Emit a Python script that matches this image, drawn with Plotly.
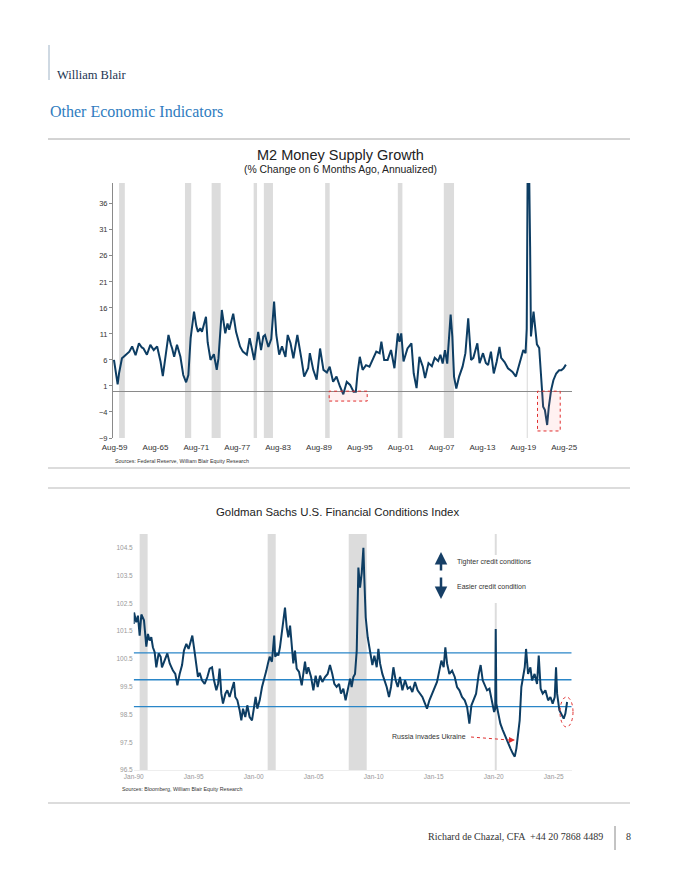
import plotly.graph_objects as go

# ---------------- DATA ----------------
# M2 money supply growth (% change on 6 months ago, annualized)
m2_dates = [
    "1959-07-01", "1959-11-01", "1960-01-15", "1960-04-01", "1960-09-01", "1961-02-01", "1961-05-01",
    "1961-10-01", "1962-03-01", "1962-09-01", "1963-03-01", "1963-08-01", "1963-11-01", "1964-05-01",
    "1964-11-01", "1965-05-01", "1965-11-01", "1966-03-01", "1966-05-01", "1966-09-01", "1967-01-01",
    "1967-07-01", "1967-11-01", "1968-01-15", "1968-05-01", "1968-10-01", "1969-04-01", "1969-09-01",
    "1970-02-01", "1970-06-01", "1970-10-01", "1971-04-01", "1971-08-01", "1971-11-01", "1972-03-01",
    "1972-06-01", "1973-01-01", "1973-04-01", "1973-09-01", "1974-03-01", "1974-08-01", "1974-11-01",
    "1975-05-01", "1975-11-01", "1976-03-01", "1976-06-01", "1977-01-01", "1977-06-01", "1978-01-01",
    "1978-06-01", "1979-01-01", "1979-06-01", "1980-02-01", "1980-09-01", "1981-02-01", "1981-06-01",
    "1981-09-01", "1982-03-01", "1982-08-01", "1983-01-01", "1983-05-01", "1983-10-01", "1984-03-01",
    "1984-09-01", "1985-01-01", "1985-06-01", "1985-11-01", "1986-06-01", "1987-01-01", "1987-06-01",
    "1988-01-01", "1988-04-01", "1988-10-01", "1989-04-01", "1989-10-01", "1990-04-01", "1990-10-01",
    "1991-03-01", "1991-09-01", "1992-03-01", "1992-09-01", "1993-03-01", "1993-09-01", "1994-03-01",
    "1994-09-01", "1995-01-01", "1995-04-01", "1995-08-01", "1996-01-01", "1996-07-01", "1997-01-01",
    "1997-08-01", "1998-01-01", "1998-07-01", "1998-10-01", "1999-03-01", "1999-09-01", "2000-03-01",
    "2000-09-01", "2001-03-01", "2001-06-01", "2001-09-01", "2002-01-01", "2002-08-01", "2003-03-01",
    "2003-07-01", "2003-12-01", "2004-05-01", "2004-11-01", "2005-03-01", "2005-09-01", "2006-03-01",
    "2006-08-01", "2007-02-01", "2007-06-01", "2007-10-01", "2008-02-01", "2008-06-01", "2008-12-01",
    "2009-03-01", "2009-06-01", "2009-10-01", "2010-03-01", "2010-09-01", "2011-02-01", "2011-07-01",
    "2011-12-01", "2012-04-01", "2012-11-01", "2013-03-01", "2013-09-01", "2014-02-01", "2014-06-01",
    "2014-11-01", "2015-04-01", "2015-09-01", "2016-02-01", "2016-05-01", "2016-11-01", "2017-05-01",
    "2018-01-01", "2018-07-01", "2019-02-01", "2019-08-01", "2019-12-01", "2020-02-01", "2020-04-01",
    "2020-06-01", "2020-08-01", "2020-09-15", "2021-02-01", "2021-05-01", "2021-08-01", "2021-12-01",
    "2022-04-01", "2022-07-01", "2022-10-01", "2023-02-01", "2023-05-01", "2023-09-01", "2024-01-01",
    "2024-06-01", "2024-11-01", "2025-03-01", "2025-07-01", "2025-11-01",
]
m2_values = [
    6.0, 2.5, 1.3, 3.5, 6.3, 6.8, 7.1,
    7.6, 8.6, 6.9, 9.2, 8.4, 8.2, 7.0,
    8.9, 7.9, 8.6, 7.0, 5.7, 2.9, 6.3,
    10.8, 9.0, 8.2, 6.6, 8.9, 6.6, 3.1,
    1.7, 3.1, 10.2, 15.3, 12.5, 11.4, 12.1,
    11.4, 14.3, 9.4, 6.0, 7.1, 4.1, 6.3,
    15.6, 11.1, 13.0, 11.8, 14.9, 11.4, 8.6,
    7.6, 7.0, 10.2, 6.0, 11.4, 7.9, 10.5,
    10.8, 8.5, 10.0, 17.2, 10.8, 7.0, 8.6,
    6.6, 10.8, 9.2, 6.3, 10.8, 6.3, 2.8,
    4.4, 7.3, 4.1, 2.2, 8.2, 4.1, 3.6,
    4.7, 1.8, 2.8, 0.9, -0.6, 1.8, 1.2,
    -0.1, -0.1, 3.4, 6.6, 4.1, 5.0, 4.7,
    6.6, 7.6, 7.3, 9.5, 6.0, 6.0, 7.9,
    4.4, 11.1, 9.5, 11.1, 5.7, 8.2, 9.2,
    3.4, 0.6, 6.6, 4.7, 2.5, 5.4, 4.8,
    6.4, 5.8, 7.0, 5.3, 7.9, 5.3, 14.7,
    10.5, 2.8, 0.5, 2.8, 4.7, 7.3, 14.0,
    6.0, 6.4, 9.2, 5.4, 7.3, 5.4, 5.0,
    7.6, 3.4, 5.6, 8.5, 6.4, 5.6, 4.4,
    3.7, 2.8, 5.6, 7.9, 7.3, 12.0, 48.0,
    45.0, 27.8, 10.5, 15.3, 12.4, 9.0, 8.3,
    2.1, -3.0, -3.6, -6.5, -3.0, 0.2, 2.1,
    3.4, 4.0, 4.0, 4.4, 5.1,
]
m2_tick_dates = ["1959-08-01", "1965-08-01", "1971-08-01", "1977-08-01", "1983-08-01", "1989-08-01",
                 "1995-08-01", "2001-08-01", "2007-08-01", "2013-08-01", "2019-08-01", "2025-08-01"]
m2_tick_text = ["Aug-59", "Aug-65", "Aug-71", "Aug-77", "Aug-83", "Aug-89",
                "Aug-95", "Aug-01", "Aug-07", "Aug-13", "Aug-19", "Aug-25"]
m2_y_ticks = [-9, -4, 1, 6, 11, 16, 21, 26, 31, 36]

# NBER recessions
m2_recessions = [("1960-04-01", "1961-02-01"), ("1969-12-01", "1970-11-01"), ("1973-11-01", "1975-03-01"),
                 ("1980-01-01", "1980-07-01"), ("1981-07-01", "1982-11-01"), ("1990-07-01", "1991-03-01"),
                 ("2001-03-01", "2001-11-01"), ("2007-12-01", "2009-06-01"), ("2020-02-01", "2020-04-01")]
m2_negative_boxes = [("1991-02-01", "1996-09-01", -1.9), ("2021-09-01", "2025-01-01", -7.65)]

# Goldman Sachs US Financial Conditions Index
fci_dates = [
    "1990-01-01", "1990-01-12", "1990-03-20", "1990-05-10", "1990-07-01", "1990-08-22", "1990-11-10",
    "1991-01-20", "1991-03-10", "1991-05-01", "1991-06-20", "1991-08-08", "1991-10-01", "1991-11-20",
    "1992-01-30", "1992-04-01", "1992-05-10", "1992-08-01", "1992-10-20", "1993-01-01", "1993-04-10",
    "1993-06-20", "1993-08-22", "1993-10-30", "1994-01-12", "1994-03-10", "1994-05-22", "1994-07-30",
    "1994-10-01", "1994-11-20", "1995-01-30", "1995-03-20", "1995-05-10", "1995-07-01", "1995-09-10",
    "1995-12-01", "1996-02-20", "1996-05-01", "1996-07-12", "1996-09-10", "1996-11-20", "1997-01-12",
    "1997-02-28", "1997-04-20", "1997-06-10", "1997-08-22", "1997-10-20", "1997-12-28", "1998-03-10",
    "1998-05-10", "1998-06-20", "1998-08-22", "1998-10-30", "1998-12-20", "1999-02-10", "1999-04-20",
    "1999-06-20", "1999-08-30", "1999-11-10", "2000-01-12", "2000-02-28", "2000-04-20", "2000-07-01",
    "2000-09-10", "2000-11-10", "2001-01-20", "2001-03-10", "2001-05-01", "2001-07-08", "2001-09-15",
    "2001-10-15", "2001-12-20", "2002-01-20", "2002-03-10", "2002-05-01", "2002-06-20", "2002-08-10",
    "2002-10-01", "2002-11-20", "2003-01-12", "2003-02-28", "2003-04-20", "2003-06-10", "2003-08-01",
    "2003-10-12", "2004-01-01", "2004-04-10", "2004-05-28", "2004-07-20", "2004-10-12", "2004-12-20",
    "2005-02-28", "2005-05-01", "2005-07-12", "2005-09-20", "2005-12-10", "2006-02-28", "2006-05-10",
    "2006-07-20", "2006-09-20", "2006-11-28", "2007-02-10", "2007-04-10", "2007-06-20", "2007-08-28",
    "2007-10-30", "2008-01-12", "2008-02-28", "2008-04-20", "2008-06-10", "2008-08-01", "2008-09-20",
    "2008-11-10", "2009-01-01", "2009-02-20", "2009-03-20", "2009-05-01", "2009-07-01", "2009-09-10",
    "2009-11-20", "2010-01-20", "2010-04-01", "2010-05-22", "2010-07-12", "2010-09-20", "2010-11-20",
    "2011-01-30", "2011-04-10", "2011-06-10", "2011-08-22", "2011-10-30", "2012-01-01", "2012-03-10",
    "2012-05-22", "2012-08-10", "2012-10-30", "2013-01-12", "2013-03-20", "2013-06-10", "2013-08-28",
    "2013-11-10", "2014-01-20", "2014-03-20", "2014-06-10", "2014-08-22", "2014-11-10", "2015-01-30",
    "2015-04-10", "2015-06-20", "2015-08-22", "2015-10-30", "2015-12-20", "2016-02-10", "2016-04-20",
    "2016-07-12", "2016-10-01", "2016-12-10", "2017-02-20", "2017-05-10", "2017-08-01", "2017-10-12",
    "2017-12-20", "2018-02-20", "2018-05-01", "2018-07-12", "2018-10-01", "2018-11-28", "2019-01-30",
    "2019-04-01", "2019-06-10", "2019-08-22", "2019-11-10", "2020-01-12", "2020-02-15", "2020-03-01",
    "2020-03-20", "2020-05-10", "2020-07-20", "2020-10-01", "2020-12-20", "2021-03-10", "2021-05-22",
    "2021-08-01", "2021-10-01", "2021-11-20", "2022-01-12", "2022-02-28", "2022-04-20", "2022-06-10",
    "2022-08-01", "2022-09-10", "2022-11-10", "2023-01-20", "2023-03-10", "2023-05-28", "2023-08-10",
    "2023-10-01", "2023-11-28", "2024-01-30", "2024-04-20", "2024-07-12", "2024-09-20", "2024-11-28",
    "2025-01-30", "2025-03-10", "2025-04-12", "2025-06-20", "2025-09-10", "2025-10-30", "2025-12-20",
    "2026-02-10",
]
fci_values = [
    101.76, 102.17, 101.82, 102.06, 101.34, 102.10, 101.89,
    100.94, 101.40, 101.16, 101.28, 100.92, 100.74, 100.20,
    100.70, 100.58, 100.20, 100.46, 100.70, 100.34, 100.08,
    99.96, 99.55, 99.96, 100.28, 100.80, 101.04, 100.86,
    101.10, 101.34, 100.74, 100.28, 99.85, 100.00, 99.73,
    99.60, 99.85, 100.15, 100.20, 99.73, 99.37, 99.60,
    100.15, 99.25, 98.89, 99.25, 99.37, 99.13, 99.43,
    99.67, 99.13, 99.01, 98.65, 98.29, 98.71, 98.41,
    98.83, 98.41, 98.29, 98.89, 99.13, 98.71, 99.01,
    99.49, 99.73, 100.08, 100.34, 100.58, 100.40, 101.34,
    100.58, 100.70, 100.62, 100.92, 101.40, 101.88, 102.35,
    101.64, 101.28, 101.70, 101.16, 100.34, 100.80, 100.15,
    100.03, 99.55, 100.40, 99.96, 100.20, 99.85, 99.37,
    99.90, 99.49, 99.90, 99.67, 99.85, 99.96, 100.28,
    99.96, 99.60, 99.49, 99.60, 99.25, 99.43, 99.01,
    99.37, 99.79, 99.49, 99.85, 99.96, 100.80, 103.79,
    103.07, 103.60, 104.50, 103.40, 102.00, 101.28, 100.74,
    100.28, 100.62, 100.20, 100.86, 100.34, 99.96, 99.73,
    99.49, 99.13, 99.49, 100.20, 99.73, 99.49, 99.85,
    99.37, 99.73, 99.43, 99.49, 99.31, 99.67, 99.37,
    99.25, 99.13, 98.95, 98.71, 99.01, 99.25, 99.49,
    99.67, 100.08, 100.44, 100.20, 100.92, 100.34, 99.96,
    100.08, 99.85, 99.49, 99.37, 99.13, 99.01, 98.77,
    98.17, 98.83, 99.07, 99.25, 99.96, 100.28, 99.73,
    99.55, 99.37, 99.43, 98.89, 98.59, 98.70, 101.58,
    98.89, 98.53, 98.17, 97.94, 97.69, 97.45, 97.28,
    97.10, 96.98, 97.28, 97.81, 98.29, 99.49, 99.85,
    100.20, 100.86, 99.96, 100.20, 99.73, 99.96, 99.60,
    100.62, 99.43, 99.25, 99.37, 99.01, 99.13, 98.89,
    99.13, 100.20, 99.25, 98.65, 98.47, 98.35, 98.53,
    98.95,
]
fci_ref_levels = [100.72, 99.75, 98.78]
fci_tick_dates = ["1990-01-01", "1995-01-01", "2000-01-01", "2005-01-01",
                  "2010-01-01", "2015-01-01", "2020-01-01", "2025-01-01"]
fci_tick_text = ["Jan-90", "Jan-95", "Jan-00", "Jan-05", "Jan-10", "Jan-15", "Jan-20", "Jan-25"]
fci_y_ticks = [96.5, 97.5, 98.5, 99.5, 100.5, 101.5, 102.5, 103.5, 104.5]
fci_recessions = [("1990-07-01", "1991-03-01"), ("2001-03-01", "2001-11-01"),
                  ("2007-12-01", "2009-06-01"), ("2020-02-01", "2020-04-01")]

# ---------------- FIGURE ----------------
W, H = 680, 880
def px(x):
    return x / W
def py(y):
    return 1 - y / H

NAVY = "#0d3d63"
REC = "#dcdcdc"
SANS = "Liberation Sans, Arial, sans-serif"
SERIF = "Liberation Serif, Times New Roman, serif"

fig = go.Figure()

# Reference lines for FCI
for lvl in fci_ref_levels:
    fig.add_trace(go.Scatter(x=["1990-01-01", "2026-06-30"], y=[lvl, lvl], mode="lines",
                             line=dict(color="#2a86c8", width=1.3), xaxis="x2", yaxis="y2",
                             hoverinfo="skip", showlegend=False))

fig.add_trace(go.Scatter(x=m2_dates, y=m2_values, mode="lines",
                         line=dict(color=NAVY, width=2), xaxis="x", yaxis="y", showlegend=False))
fig.add_trace(go.Scatter(x=fci_dates, y=fci_values, mode="lines",
                         line=dict(color=NAVY, width=2), xaxis="x2", yaxis="y2", showlegend=False))

shapes = []
for a, b in m2_recessions:
    shapes.append(dict(type="rect", xref="x", yref="y domain", x0=a, x1=b, y0=0, y1=1,
                       fillcolor=REC, line=dict(width=0), layer="below"))
for a, b in fci_recessions:
    shapes.append(dict(type="rect", xref="x2", yref="y2 domain", x0=a, x1=b, y0=0, y1=1,
                       fillcolor=REC, line=dict(width=0), layer="below"))
# white backing of the FCI key (covers the recession bar)
shapes.append(dict(type="rect", xref="paper", yref="paper", x0=px(432), x1=px(540),
                   y0=py(603), y1=py(555), fillcolor="white", line=dict(width=0), layer="below"))
for a, b, lo in m2_negative_boxes:
    shapes.append(dict(type="rect", xref="x", yref="y", x0=a, x1=b, y0=lo, y1=0,
                       fillcolor="rgba(255,120,120,0.10)",
                       line=dict(color="#e03030", width=1, dash="dot"), layer="above"))
# ellipse around latest FCI reading
shapes.append(dict(type="circle", xref="paper", yref="paper", x0=px(560), x1=px(573),
                   y0=py(727), y1=py(697), line=dict(color="#e03030", width=1, dash="dot")))
# Russia annotation connector
shapes.append(dict(type="line", xref="paper", yref="paper", x0=px(471), y0=py(737),
                   x1=px(509), y1=py(740), line=dict(color="#e03030", width=1, dash="dot")))
# page rules
shapes += [
    dict(type="line", xref="paper", yref="paper", x0=px(49), x1=px(49), y0=py(45), y1=py(80),
         line=dict(color="#9fb3c6", width=1)),
    dict(type="line", xref="paper", yref="paper", x0=px(48), x1=px(630), y0=py(139), y1=py(139),
         line=dict(color="#a8a8a8", width=1)),
    dict(type="line", xref="paper", yref="paper", x0=px(48), x1=px(630), y0=py(468), y1=py(468),
         line=dict(color="#d0d0d0", width=1.5)),
    dict(type="line", xref="paper", yref="paper", x0=px(48), x1=px(630), y0=py(488), y1=py(488),
         line=dict(color="#d0d0d0", width=1.5)),
    dict(type="line", xref="paper", yref="paper", x0=px(48), x1=px(630), y0=py(803), y1=py(803),
         line=dict(color="#d0d0d0", width=1.5)),
    dict(type="line", xref="paper", yref="paper", x0=px(615), x1=px(615), y0=py(826), y1=py(850),
         line=dict(color="#888888", width=1)),
]

ann = []
def text(x, y, s, size, color="#333", font=SANS, xanchor="left"):
    ann.append(dict(xref="paper", yref="paper", x=px(x), y=py(y), text=s, showarrow=False,
                    xanchor=xanchor, yanchor="middle", font=dict(family=font, size=size, color=color)))

text(55, 75, "William Blair", 12.5, "#1d3552", SERIF)
text(48, 112, "Other Economic Indicators", 16, "#2f7cc0", SERIF)
text(340, 155, "M2 Money Supply Growth", 14.5, "#222", xanchor="center")
text(340, 170, "(% Change on 6 Months Ago, Annualized)", 10.4, "#222", xanchor="center")
text(113, 461, "Sources: Federal Reserve, William Blair Equity Research", 5.3, "#333")
text(337, 512, "Goldman Sachs U.S. Financial Conditions Index", 11.4, "#222", xanchor="center")
text(120, 789, "Sources: Bloomberg, William Blair Equity Research", 5.3, "#333")
text(455, 561.5, "Tighter credit conditions", 7, "#333")
text(455, 586.5, "Easier credit condition", 7, "#333")
text(468, 736, "Russia invades Ukraine", 7, "#333", xanchor="right")
text(605, 836, "Richard de Chazal, CFA  +44 20 7868 4489", 10, "#333", SERIF, xanchor="right")
text(624, 836, "8", 10, "#333", SERIF)

# arrows in key
ann.append(dict(xref="paper", yref="paper", x=px(441), y=py(552), ax=0, ay=20, text="",
                showarrow=True, arrowhead=2, arrowsize=1, arrowwidth=2.5, arrowcolor="#163f66"))
ann.append(dict(xref="paper", yref="paper", x=px(441), y=py(599), ax=0, ay=-23, text="",
                showarrow=True, arrowhead=2, arrowsize=1, arrowwidth=2.5, arrowcolor="#163f66"))
ann.append(dict(xref="paper", yref="paper", x=px(515), y=py(740), ax=-6, ay=0, text="",
                showarrow=True, arrowhead=2, arrowsize=1, arrowwidth=1.2, arrowcolor="#e03030"))

fig.update_layout(
    width=W, height=H, autosize=False,
    margin=dict(l=0, r=0, t=0, b=0, pad=0, autoexpand=False),
    paper_bgcolor="white", plot_bgcolor="white", showlegend=False,
    font=dict(family=SANS, color="#333"),
    xaxis=dict(domain=[px(113), px(572)], anchor="y", type="date", automargin=False,
               range=["1959-05-10", "2026-09-25"], tickvals=m2_tick_dates, ticktext=m2_tick_text,
               showgrid=False, zeroline=False, showline=False, ticks="", ticklabelstandoff=3,
               tickfont=dict(size=8, color="#333")),
    yaxis=dict(domain=[py(438), py(183)], anchor="x", range=[-9, 40], tickvals=m2_y_ticks,
               automargin=False,
               showgrid=False, zeroline=True, zerolinecolor="#8a8a8a", zerolinewidth=1,
               showline=True, linecolor="#8a8a8a", linewidth=1, ticks="outside", ticklen=3,
               tickcolor="#8a8a8a", tickfont=dict(size=7.5, color="#333")),
    xaxis2=dict(domain=[px(133.7), px(571.7)], anchor="y2", type="date", automargin=False,
                range=["1990-01-01", "2026-06-30"], tickvals=fci_tick_dates, ticktext=fci_tick_text,
                showgrid=False, zeroline=False, showline=True, linecolor="#eeeeee", ticks="",
                tickfont=dict(size=6.5, color="#999")),
    yaxis2=dict(domain=[py(770), py(534)], anchor="x2", range=[96.5, 105], tickvals=fci_y_ticks,
                automargin=False,
                tickformat=".1f", showgrid=False, zeroline=False, showline=False, ticks="",
                tickfont=dict(size=6.5, color="#999")),
    shapes=shapes, annotations=ann,
)

fig.write_html(
    "out.html",
    config={"displayModeBar": False, "responsive": False},
    post_script=("document.body.style.margin='0';document.body.style.padding='0';"
                 "document.documentElement.style.overflow='hidden';"
                 "document.body.style.overflow='hidden';"),
)
